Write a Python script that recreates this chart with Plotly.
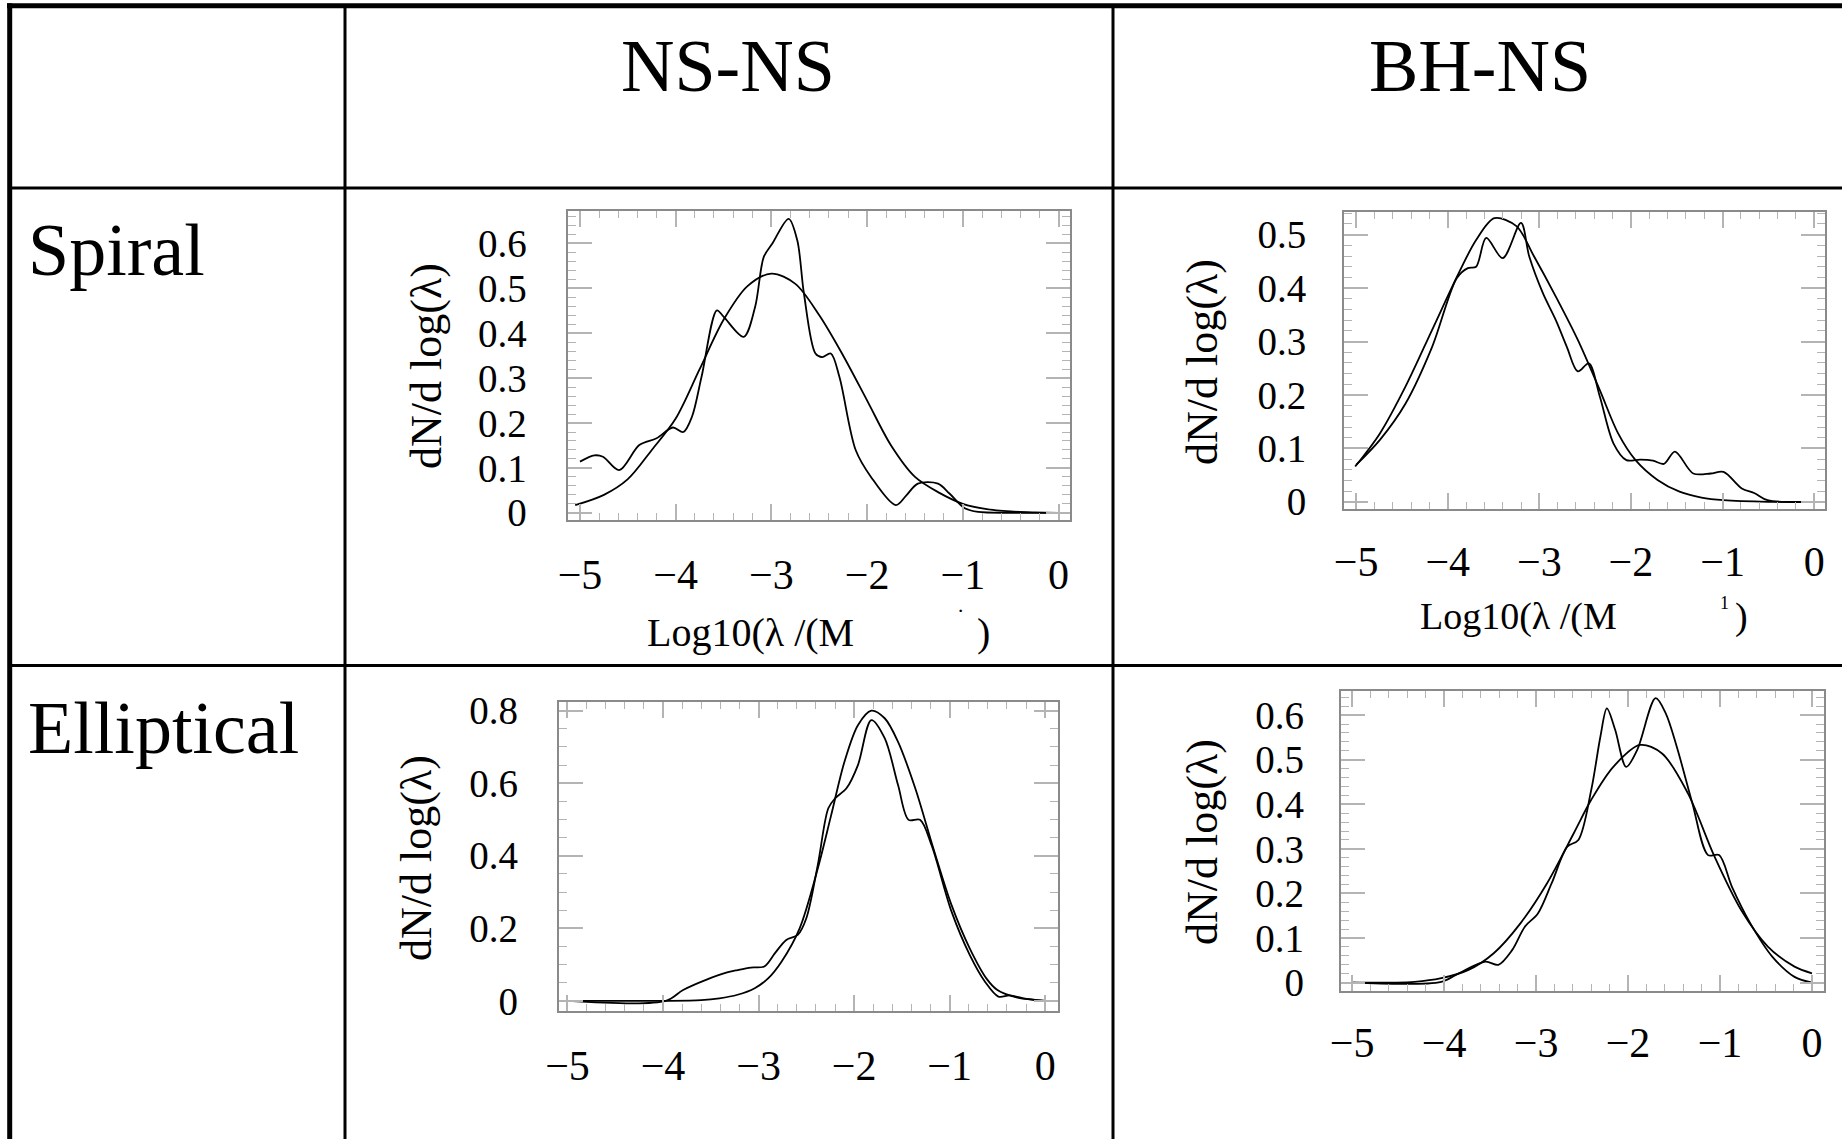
import plotly.graph_objects as go

W, H = 1842, 1139

# ---------------- data ----------------
column_labels = ["NS-NS", "BH-NS"]
row_labels = ["Spiral", "Elliptical"]
x_ticks = [-5, -4, -3, -2, -1, 0]
y_title = "dN/d log(λ)"
x_title = "Log10(λ /(M"

# Spiral, NS-NS
sp_ns_fit_x = [-5.05, -4.75, -4.5, -4.25, -4.0, -3.75, -3.5, -3.25, -3.0, -2.75, -2.5, -2.25,
               -2.0, -1.75, -1.5, -1.25, -1.0, -0.75, -0.5, -0.25, 0.0]
sp_ns_fit_y = [0.017, 0.04, 0.075, 0.14, 0.21, 0.32, 0.43, 0.505, 0.533, 0.51, 0.44, 0.35,
               0.25, 0.15, 0.08, 0.045, 0.02, 0.008, 0.003, 0.001, 0.0]
sp_ns_kde_x = [-5.0, -4.85, -4.76, -4.59, -4.38, -4.2, -4.03, -3.92, -3.83, -3.73, -3.57, -3.5,
               -3.29, -3.17, -3.08, -2.99, -2.82, -2.73, -2.66, -2.54, -2.47, -2.38, -2.29,
               -2.12, -1.96, -1.70, -1.59, -1.47, -1.26, -1.14, -0.98, -0.84, -0.5, 0.0]
sp_ns_kde_y = [0.114, 0.128, 0.125, 0.095, 0.151, 0.166, 0.19, 0.18, 0.214, 0.303, 0.451, 0.437,
               0.392, 0.459, 0.57, 0.6, 0.655, 0.607, 0.488, 0.355, 0.347, 0.355, 0.303,
               0.14, 0.08, 0.017, 0.039, 0.065, 0.065, 0.043, 0.01, 0.002, 0.0, 0.0]

# Spiral, BH-NS
sp_bh_fit_x = [-5.01, -4.74, -4.46, -4.17, -3.88, -3.69, -3.49, -3.25, -3.06, -2.82, -2.58,
               -2.34, -2.14, -1.95, -1.71, -1.47, -1.23, -0.99, -0.5, 0.0]
sp_bh_fit_y = [0.066, 0.128, 0.216, 0.322, 0.428, 0.49, 0.531, 0.516, 0.46, 0.384, 0.303,
               0.209, 0.128, 0.078, 0.041, 0.019, 0.008, 0.003, 0.0, 0.0]
sp_bh_kde_x = [-5.0, -4.74, -4.46, -4.17, -3.9, -3.78, -3.69, -3.58, -3.4, -3.2, -3.11, -2.96,
               -2.82, -2.7, -2.58, -2.46, -2.34, -2.19, -2.05, -1.9, -1.76, -1.64, -1.52,
               -1.32, -1.13, -0.99, -0.79, -0.65, -0.51, 0.0]
sp_bh_kde_y = [0.069, 0.116, 0.184, 0.29, 0.419, 0.4375, 0.44, 0.494, 0.456, 0.522, 0.459, 0.39,
               0.34, 0.29, 0.244, 0.259, 0.197, 0.109, 0.078, 0.079, 0.077, 0.071, 0.094,
               0.053, 0.053, 0.056, 0.025, 0.016, 0.003, 0.0]

# Elliptical, NS-NS
el_ns_fit_x = [-5.0, -4.0, -3.6, -3.41, -3.22, -3.04, -2.9, -2.76, -2.57, -2.38, -2.24, -2.1,
               -1.96, -1.82, -1.68, -1.54, -1.36, -1.17, -0.98, -0.79, -0.61, -0.5, -0.3, 0.0]
el_ns_fit_y = [0.0, 0.0, 0.002, 0.007, 0.017, 0.035, 0.062, 0.108, 0.2, 0.365, 0.512, 0.66,
               0.76, 0.80, 0.779, 0.714, 0.586, 0.42, 0.264, 0.145, 0.06, 0.03, 0.01, 0.0]
el_ns_kde_x = [-5.0, -3.97, -3.79, -3.55, -3.32, -3.22, -3.08, -2.94, -2.83, -2.71, -2.59, -2.5,
               -2.38, -2.27, -2.2, -2.08, -1.96, -1.82, -1.68, -1.54, -1.43, -1.31, -1.19,
               -0.98, -0.79, -0.63, -0.49, -0.37, -0.23, 0.0]
el_ns_kde_y = [0.0, 0.0, 0.03, 0.058, 0.079, 0.085, 0.092, 0.095, 0.131, 0.168, 0.182, 0.228,
               0.375, 0.531, 0.558, 0.586, 0.65, 0.774, 0.724, 0.595, 0.499, 0.499, 0.43,
               0.246, 0.127, 0.053, 0.012, 0.015, 0.007, 0.0]

# Elliptical, BH-NS
el_bh_fit_x = [-5.0, -4.32, -4.03, -3.74, -3.46, -3.17, -2.88, -2.59, -2.4, -2.16, -1.87,
               -1.63, -1.35, -1.06, -0.77, -0.48, -0.19, 0.0]
el_bh_fit_y = [0.0, 0.002, 0.01, 0.028, 0.066, 0.133, 0.223, 0.335, 0.41, 0.484, 0.533,
               0.514, 0.425, 0.283, 0.163, 0.081, 0.036, 0.021]
el_bh_kde_x = [-5.0, -4.03, -3.84, -3.55, -3.41, -3.26, -3.12, -2.98, -2.83, -2.66, -2.54,
               -2.4, -2.3, -2.23, -2.14, -2.02, -1.9, -1.7, -1.59, -1.47, -1.3, -1.13, -1.01,
               -0.87, -0.67, -0.43, -0.19, 0.0]
el_bh_kde_y = [0.0, 0.002, 0.021, 0.047, 0.04, 0.073, 0.126, 0.155, 0.223, 0.305, 0.32,
               0.432, 0.552, 0.615, 0.567, 0.484, 0.522, 0.638, 0.604, 0.529, 0.402, 0.286,
               0.286, 0.215, 0.133, 0.058, 0.013, 0.0]

# ---------------- layout helpers ----------------
def fx(p):
    return p / W

def fy(p):
    return 1 - p / H

SERIF = "Liberation Serif, Times New Roman, serif"
FRAME = "#8a8a8a"
TICK = "#b4b4b4"

panels = [
    dict(fit=(sp_ns_fit_x, sp_ns_fit_y), kde=(sp_ns_kde_x, sp_ns_kde_y),
         box=(568.4, 1069.7, 210.7, 520), xr=[-5.121, 0.116], yr=[-0.016, 0.673],
         dy=0.1, my=0.02, ystand=32, xstand=17, ytitle=(426, 366)),
    dict(fit=(sp_bh_fit_x, sp_bh_fit_y), kde=(sp_bh_kde_x, sp_bh_kde_y),
         box=(1344, 1825.2, 211.7, 509.3), xr=[-5.132, 0.12], yr=[-0.014, 0.543],
         dy=0.1, my=0.02, ystand=28, xstand=14, ytitle=(1203, 362)),
    dict(fit=(el_ns_fit_x, el_ns_fit_y), kde=(el_ns_kde_x, el_ns_kde_y),
         box=(558.6, 1057.7, 702.3, 1010.7), xr=[-5.093, 0.131], yr=[-0.027, 0.823],
         dy=0.2, my=0.05, ystand=31, xstand=17, ytitle=(416, 858)),
    dict(fit=(el_bh_fit_x, el_bh_fit_y), kde=(el_bh_kde_x, el_bh_kde_y),
         box=(1340.6, 1824.3, 691, 990.7), xr=[-5.125, 0.134], yr=[-0.018, 0.654],
         dy=0.1, my=0.02, ystand=27, xstand=14, ytitle=(1202, 842)),
]

fig = go.Figure()
layout = dict(
    width=W, height=H,
    margin=dict(l=0, r=0, t=0, b=0, pad=0, autoexpand=False),
    paper_bgcolor="white", plot_bgcolor="white",
    showlegend=False,
    font=dict(family=SERIF, color="black"),
)

annotations = []
for i, p in enumerate(panels, start=1):
    xa = "x" if i == 1 else f"x{i}"
    ya = "y" if i == 1 else f"y{i}"
    for (xs, ys) in (p["fit"], p["kde"]):
        fig.add_trace(go.Scatter(x=xs, y=ys, mode="lines", xaxis=xa, yaxis=ya,
                                 line=dict(color="black", width=1.8, shape="spline", smoothing=0.9),
                                 hoverinfo="skip"))
    l, r, t, b = p["box"]
    layout[f"xaxis{'' if i == 1 else i}"] = dict(
        domain=[fx(l), fx(r)], anchor=ya, range=p["xr"], automargin=False,
        tickmode="array", tickvals=x_ticks,
        ticks="inside", ticklen=16, tickwidth=1.6, tickcolor=TICK,
        minor=dict(dtick=0.2, tick0=0, ticks="inside", ticklen=7, tickwidth=1.3, tickcolor=TICK),
        showline=True, linecolor=FRAME, linewidth=1.8, mirror="allticks",
        showgrid=False, zeroline=False,
        tickfont=dict(family=SERIF, size=42, color="black"),
        ticklabelstandoff=p["xstand"],
    )
    layout[f"yaxis{'' if i == 1 else i}"] = dict(
        domain=[fy(b), fy(t)], anchor=xa, range=p["yr"], automargin=False,
        tick0=0, dtick=p["dy"],
        ticks="inside", ticklen=24, tickwidth=1.6, tickcolor=TICK,
        minor=dict(dtick=p["my"], tick0=0, ticks="inside", ticklen=8, tickwidth=1.3, tickcolor=TICK),
        showline=True, linecolor=FRAME, linewidth=1.8, mirror="allticks",
        showgrid=False, zeroline=False,
        tickfont=dict(family=SERIF, size=39, color="black"),
        ticklabelstandoff=p["ystand"],
    )
    yx, yy = p["ytitle"]
    annotations.append(dict(text=y_title, x=fx(yx), y=fy(yy), xref="paper", yref="paper",
                            showarrow=False, textangle=-90, xanchor="center", yanchor="middle",
                            font=dict(family=SERIF, size=44, color="black")))

# x-axis titles (top row only)
annotations += [
    dict(text=x_title, x=fx(645), y=fy(632), xref="paper", yref="paper", showarrow=False,
         xanchor="left", yanchor="middle", font=dict(family=SERIF, size=40, color="black")),
    dict(text=")", x=fx(983), y=fy(632), xref="paper", yref="paper", showarrow=False,
         xanchor="center", yanchor="middle", font=dict(family=SERIF, size=40, color="black")),
    dict(text="·", x=fx(960), y=fy(611), xref="paper", yref="paper", showarrow=False,
         xanchor="center", yanchor="middle", font=dict(family=SERIF, size=22, color="black")),
    dict(text=x_title, x=fx(1418), y=fy(616), xref="paper", yref="paper", showarrow=False,
         xanchor="left", yanchor="middle", font=dict(family=SERIF, size=38, color="black")),
    dict(text=")", x=fx(1741), y=fy(616), xref="paper", yref="paper", showarrow=False,
         xanchor="center", yanchor="middle", font=dict(family=SERIF, size=38, color="black")),
    dict(text="1", x=fx(1724), y=fy(603), xref="paper", yref="paper", showarrow=False,
         xanchor="center", yanchor="middle", font=dict(family=SERIF, size=18, color="black")),
]

# table header / row labels
annotations += [
    dict(text=column_labels[0], x=fx(728), y=fy(66), xref="paper", yref="paper", showarrow=False,
         xanchor="center", yanchor="middle", font=dict(family=SERIF, size=74, color="black")),
    dict(text=column_labels[1], x=fx(1480), y=fy(66), xref="paper", yref="paper", showarrow=False,
         xanchor="center", yanchor="middle", font=dict(family=SERIF, size=74, color="black")),
    dict(text=row_labels[0], x=fx(26), y=fy(250), xref="paper", yref="paper", showarrow=False,
         xanchor="left", yanchor="middle", font=dict(family=SERIF, size=74, color="black")),
    dict(text=row_labels[1], x=fx(26), y=fy(728), xref="paper", yref="paper", showarrow=False,
         xanchor="left", yanchor="middle", font=dict(family=SERIF, size=74, color="black")),
]

# table rules
def hline(y, x0, x1, w):
    return dict(type="line", xref="paper", yref="paper", x0=fx(x0), x1=fx(x1), y0=fy(y), y1=fy(y),
                line=dict(color="black", width=w))

def vline(x, y0, y1, w):
    return dict(type="line", xref="paper", yref="paper", x0=fx(x), x1=fx(x), y0=fy(y0), y1=fy(y1),
                line=dict(color="black", width=w))

shapes = [
    hline(5.8, 7, W + 10, 5),
    vline(9.7, 3.3, H + 10, 5),
    vline(345, 5, H + 10, 3),
    vline(1113, 5, H + 10, 3),
    hline(188, 9, W + 10, 3),
    hline(665.5, 9, W + 10, 3),
]

layout["annotations"] = annotations
layout["shapes"] = shapes
fig.update_layout(**layout)
fig.write_html("out.html")
